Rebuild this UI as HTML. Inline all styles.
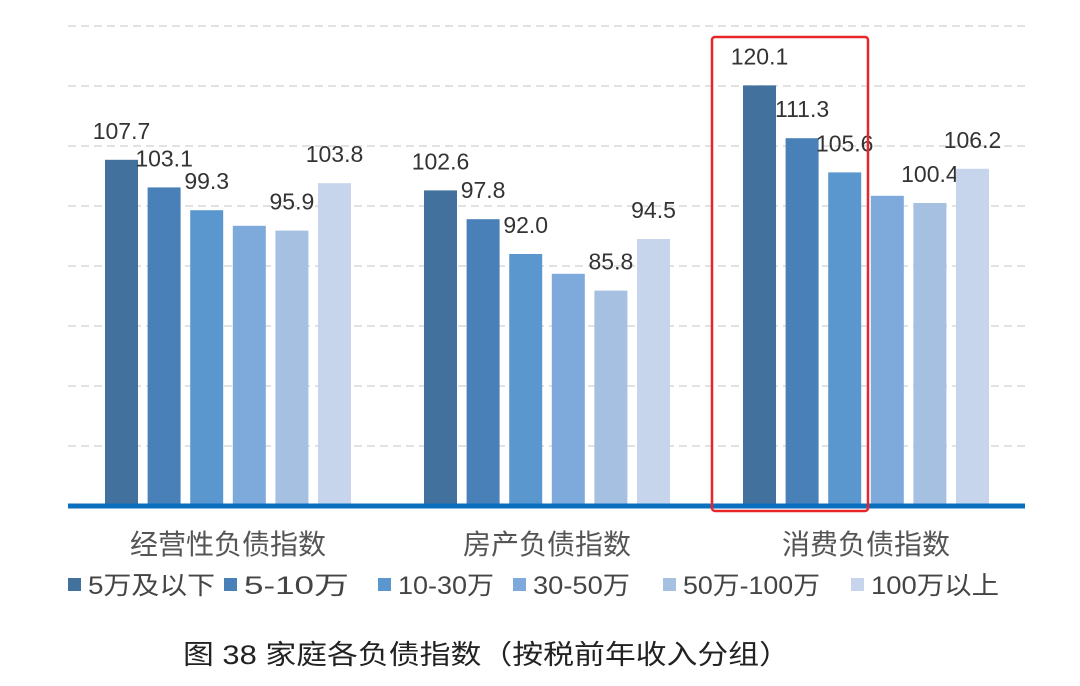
<!DOCTYPE html>
<html><head><meta charset="utf-8"><style>
body{margin:0;background:#fff;width:1080px;height:686px;overflow:hidden}
svg{display:block}
text{font-family:"Liberation Sans","Noto Sans CJK SC",sans-serif}
</style></head><body>
<svg id="c" width="1080" height="686"></svg>
<script>
const categories=["经营性负债指数","房产负债指数","消费负债指数"];
const seriesNames=["5万及以下","5-10万","10-30万","30-50万","50万-100万","100万以上"];
const s0=[107.7,102.6,120.1];
const s1=[103.1,97.8,111.3];
const s2=[99.3,92.0,105.6];
const s3=[96.7,88.7,101.7];
const s4=[95.9,85.9,100.5];
const s5=[103.8,94.5,106.2];
const labels0=["107.7","102.6","120.1"];
const labels1=["103.1","97.8","111.3"];
const labels2=["99.3","92.0","105.6"];
const labels3=["","",""];
const labels4=["95.9","85.8","100.4"];
const labels5=["103.8","94.5","106.2"];
const yTicks=[50,60,70,80,90,100,110,120,130];
const series=[s0,s1,s2,s3,s4,s5];
const labels=[labels0,labels1,labels2,labels3,labels4,labels5];
const colors=["#41719c","#4a80b8","#5b97cf","#7eaadb","#a6c0e2","#c6d5eb"];
const NS="http://www.w3.org/2000/svg";
const svg=document.getElementById('c');
const y=v=>506-(v-50)*6.0;
const gx=i=>105+i*319;
const bx=(g,k)=>gx(g)+k*42.6;
function mk(t,a){const e=document.createElementNS(NS,t);for(const k in a)e.setAttribute(k,a[k]);svg.appendChild(e);return e;}
yTicks.forEach(v=>{if(v===50)return;
 const l=mk('line',{x1:68,x2:1025,y1:y(v),y2:y(v),stroke:'#d9d9d9','stroke-width':1.5,'stroke-dasharray':'8,5'});
 
 });
series.forEach((s,k)=>s.forEach((v,g)=>{
 const r=mk('rect',{x:bx(g,k),y:y(v),width:33,height:506-y(v),fill:colors[k]});
 
 
 if(labels[k][g]){const t=mk('text',{x:bx(g,k)+16.5,y:y(v)-21,'text-anchor':'middle','font-size':23,fill:'#333'});t.textContent=labels[k][g];
 
 }
}));
const base=mk('line',{x1:68,x2:1025,y1:506,y2:506,stroke:'#0b6fc0','stroke-width':5});


categories.forEach((c,g)=>{const t=mk('text',{x:gx(g)+123,y:554,'text-anchor':'middle','font-size':28,fill:'#555'});t.textContent=c;
 
 });
const lx=[68,224,378,513,663,851];
const lw=[127,105,96,97,137,128];
seriesNames.forEach((n,k)=>{
 const r=mk('rect',{x:lx[k],y:578,width:13,height:13,fill:colors[k]});
 
 
 const t=mk('text',{x:lx[k]+20,y:594,'font-size':25,fill:'#444',textLength:lw[k],lengthAdjust:'spacingAndGlyphs'});t.textContent=n;
 
 });
const hl=mk('rect',{x:712,y:37,width:156,height:474,rx:3,fill:'none',stroke:'#e8262a','stroke-width':2.5});


const cap=mk('text',{x:183,y:664,'font-size':27,fill:'#222',textLength:607,lengthAdjust:'spacingAndGlyphs','font-family':'"Liberation Serif","Noto Serif CJK SC",serif'});
cap.textContent='图 38 家庭各负债指数（按税前年收入分组）';


</script>
</body></html>
